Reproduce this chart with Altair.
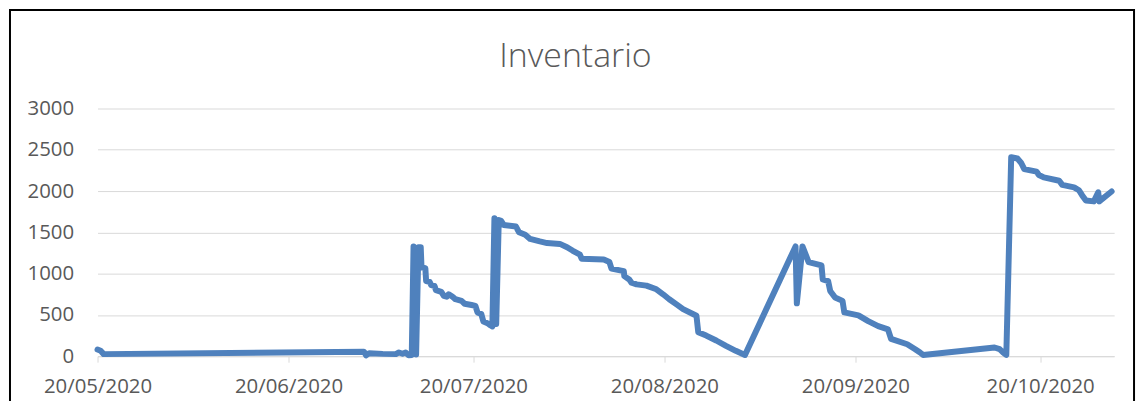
import altair as alt
import pandas as pd

fechas = [
    "2020-05-20T00:00", "2020-05-20T12:00", "2020-05-21T00:00",
    "2020-07-02T06:00", "2020-07-02T14:00", "2020-07-03T02:00", "2020-07-05T07:00",
    "2020-07-07T10:00", "2020-07-07T22:00", "2020-07-08T12:00", "2020-07-09T00:00",
    "2020-07-09T12:00", "2020-07-10T00:00", "2020-07-10T07:00", "2020-07-10T17:00",
    "2020-07-11T02:00", "2020-07-11T11:00", "2020-07-11T14:00", "2020-07-12T05:00",
    "2020-07-12T08:00", "2020-07-12T22:00", "2020-07-13T04:00", "2020-07-13T17:00",
    "2020-07-13T22:00", "2020-07-14T19:00", "2020-07-15T05:00", "2020-07-15T16:00",
    "2020-07-16T00:00", "2020-07-16T15:00", "2020-07-17T02:00", "2020-07-18T02:00",
    "2020-07-18T14:00", "2020-07-19T17:00", "2020-07-20T08:00", "2020-07-20T16:00",
    "2020-07-21T07:00", "2020-07-21T15:00", "2020-07-22T07:00", "2020-07-22T18:00",
    "2020-07-23T02:00", "2020-07-23T10:00", "2020-07-23T17:00", "2020-07-24T03:00",
    "2020-07-24T12:00", "2020-07-24T22:00", "2020-07-26T22:00", "2020-07-27T10:00",
    "2020-07-28T10:00", "2020-07-29T05:00", "2020-07-30T19:00", "2020-07-31T23:00",
    "2020-08-03T01:00", "2020-08-04T05:00", "2020-08-05T02:00", "2020-08-06T07:00",
    "2020-08-06T14:00", "2020-08-10T04:00", "2020-08-11T02:00", "2020-08-11T10:00",
    "2020-08-13T10:00", "2020-08-13T12:00", "2020-08-14T07:00", "2020-08-14T16:00",
    "2020-08-15T12:00", "2020-08-17T02:00", "2020-08-18T17:00", "2020-08-19T19:00",
    "2020-08-20T19:00", "2020-08-21T22:00", "2020-08-23T01:00", "2020-08-25T05:00",
    "2020-08-25T12:00", "2020-08-26T19:00", "2020-08-28T10:00", "2020-08-30T00:00",
    "2020-08-31T14:00", "2020-09-02T02:00", "2020-09-10T07:00", "2020-09-10T12:00",
    "2020-09-11T10:00", "2020-09-12T10:00", "2020-09-14T12:00", "2020-09-14T17:00",
    "2020-09-15T14:00", "2020-09-15T22:00", "2020-09-16T17:00", "2020-09-17T22:00",
    "2020-09-18T05:00", "2020-09-20T12:00", "2020-09-22T02:00", "2020-09-23T17:00",
    "2020-09-25T07:00", "2020-09-25T19:00", "2020-09-28T10:00", "2020-09-29T17:00",
    "2020-09-30T12:00", "2020-10-01T00:00", "2020-10-12T14:00", "2020-10-13T10:00",
    "2020-10-13T22:00", "2020-10-14T12:00", "2020-10-15T07:00", "2020-10-16T07:00",
    "2020-10-16T22:00", "2020-10-17T10:00", "2020-10-19T10:00", "2020-10-19T19:00",
    "2020-10-20T14:00", "2020-10-23T02:00", "2020-10-23T14:00", "2020-10-25T12:00",
    "2020-10-26T07:00", "2020-10-26T19:00", "2020-10-27T10:00", "2020-10-28T17:00",
    "2020-10-29T10:00", "2020-10-29T14:00", "2020-10-31T14:00",
]

inventario = [
    80, 65, 25,
    55, 10, 35, 28,
    25, 45, 30, 45,
    10, 15, 1330, 20,
    1320, 1320, 1075, 1065,
    910, 900, 860, 850,
    800, 780, 730, 720,
    750, 720, 690, 670,
    635, 620, 610, 530,
    510, 420, 400, 375,
    360, 1670, 390, 1650,
    1640, 1590, 1570, 1500,
    1470, 1420, 1390, 1370,
    1360, 1320, 1280, 1230,
    1180, 1170, 1140, 1060,
    1030, 970, 930, 890,
    870, 855, 810, 750,
    690, 630, 570, 490,
    290, 250, 190, 125,
    65, 15, 1330, 640,
    1330, 1140, 1100, 930,
    910, 790, 710, 670,
    530, 495, 425, 365,
    325, 210, 145, 85,
    45, 15, 105, 85,
    50, 15, 2410, 2395,
    2340, 2265, 2235, 2195,
    2165, 2125, 2075, 2045,
    2010, 1950, 1885, 1875,
    1985, 1875, 1995,
]

titulo = "Inventario"
meses_ticks = [5, 6, 7, 8, 9, 10]
y_ticks = [0, 500, 1000, 1500, 2000, 2500, 3000]

df = pd.DataFrame({"fecha": fechas, "inventario": inventario,
                   "orden": list(range(len(fechas)))})

FONT = "Open Sans"
GRAY_TXT = "#595959"
GRID = "#d9d9d9"

line = alt.Chart(df).mark_line(
    color="#4f81bd", strokeWidth=6, strokeCap="round", strokeJoin="round"
).encode(
    x=alt.X(
        "fecha:T",
        scale=alt.Scale(
            domain=[alt.DateTime(year=2020, month=5, date=20),
                    alt.DateTime(year=2020, month=11, date=1)],
            nice=False,
        ),
        axis=alt.Axis(
            title=None,
            values=[alt.DateTime(year=2020, month=m, date=20) for m in meses_ticks],
            format="%d/%m/%Y",
            grid=False,
            domainColor=GRID,
            domainWidth=1,
            tickColor=GRID,
            tickSize=6,
            labelFont=FONT,
            labelFontSize=20.5,
            labelColor=GRAY_TXT,
            labelPadding=15,
            labelFlush=False,
            labelOverlap=False,
        ),
    ),
    y=alt.Y(
        "inventario:Q",
        scale=alt.Scale(domain=[0, 3000], nice=False),
        axis=alt.Axis(
            title=None,
            values=y_ticks,
            format="d",
            grid=True,
            gridColor=GRID,
            gridWidth=1,
            domain=False,
            ticks=False,
            labelFont=FONT,
            labelFontSize=20.5,
            labelColor=GRAY_TXT,
            labelPadding=24,
        ),
    ),
    order=alt.Order("orden:Q"),
)

frame = alt.Chart(pd.DataFrame({"k": [0]})).mark_rect(
    fillOpacity=0, stroke="black", strokeWidth=2
).encode(
    x=alt.value(-88), x2=alt.value(1042), y=alt.value(-99), y2=alt.value(420)
)

title_mark = alt.Chart(pd.DataFrame({"t": [titulo]})).mark_text(
    font=FONT, fontSize=34, fontWeight=300, color=GRAY_TXT,
    align="center", baseline="alphabetic"
).encode(
    text="t:N", x=alt.value(480.5), y=alt.value(-42)
)

chart = alt.layer(frame, line, title_mark).properties(
    width=1022,
    height=249,
    autosize="none",
    padding={"left": 90, "top": 100, "right": 26, "bottom": 44},
).configure_view(strokeWidth=0)

chart.save("out.html", embed_options={"renderer": "svg", "actions": False})
